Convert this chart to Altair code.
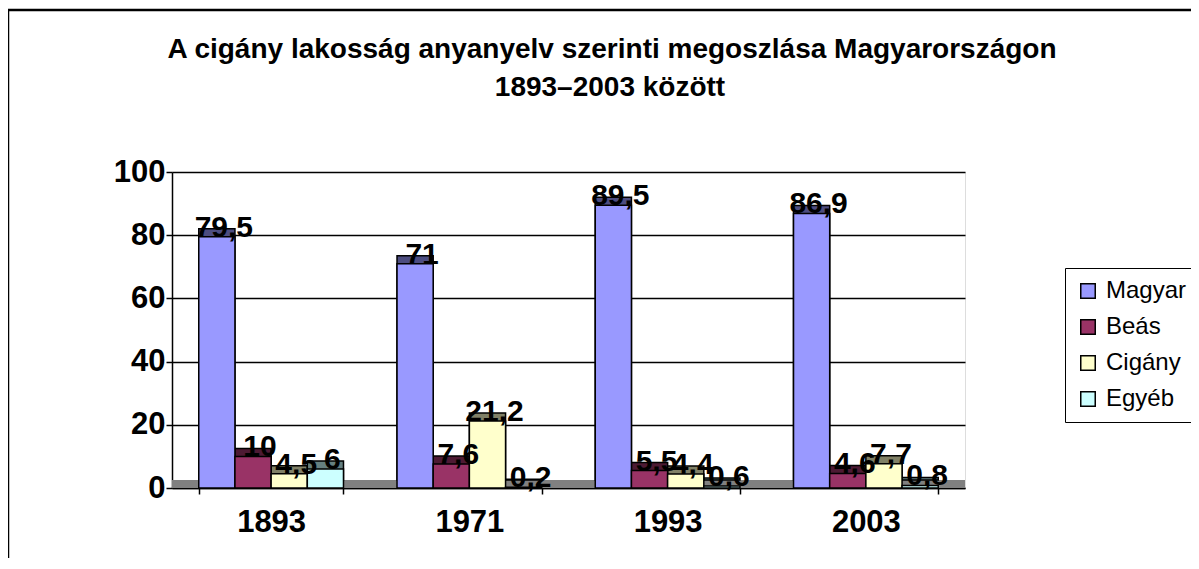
import altair as alt
import pandas as pd

years = ["1893", "1971", "1993", "2003"]
groups = ["Magyar", "Beás", "Cigány", "Egyéb"]
magyar = [79.5, 71, 89.5, 86.9]
beas = [10, 7.6, 5.5, 4.6]
cigany = [4.5, 21.2, 4.4, 7.7]
egyeb = [6, 0.2, 0.6, 0.8]
title_lines = ["A cigány lakosság anyanyelv szerinti megoszlása Magyarországon",
               "1893–2003 között"]

front_colors = ["#9999FF", "#993366", "#FFFFCC", "#CCFFFF"]
side_colors = ["#4D4D80", "#4D1A33", "#808066", "#668080"]

rows = []
for series, side_c, vals in zip(groups, side_colors, [magyar, beas, cigany, egyeb]):
    for y, v in zip(years, vals):
        rows.append({"Év": y, "Nyelv": series, "Érték": v, "Oldal": side_c,
                     "Címke": ("%g" % v).replace(".", ",")})
df = pd.DataFrame(rows)
one = pd.DataFrame({"k": [0]})

W, H = 793, 316
FONT = "Liberation Sans"

x_enc = alt.X("Év:N", sort=years,
              scale=alt.Scale(paddingInner=0.27, paddingOuter=0.135),
              axis=alt.Axis(title=None, labelAngle=0, labelFont=FONT, labelFontSize=31,
                            labelFontWeight="bold", labelColor="black", labelPadding=13,
                            domainColor="black", domainWidth=1.5, tickColor="black",
                            tickWidth=1.5, tickSize=6, tickBand="extent", grid=False))
y_enc = alt.Y("Érték:Q", scale=alt.Scale(domain=[0, 100]),
              axis=alt.Axis(title=None, values=[0, 20, 40, 60, 80, 100], labelFont=FONT,
                            labelFontSize=31, labelFontWeight="bold", labelColor="black",
                            labelPadding=1, domainColor="black", domainWidth=1.5,
                            tickColor="black", tickWidth=1.5, tickSize=6,
                            gridColor="black", gridWidth=1.5))
xoff = alt.XOffset("Nyelv:N", sort=groups, scale=alt.Scale(paddingInner=0, paddingOuter=0))

base = alt.Chart(df)
deco = alt.Chart(one)

floor = deco.mark_rect(color="#808080").encode(
    x=alt.value(0), x2=alt.value(W), y=alt.value(H - 8), y2=alt.value(H))

side = base.mark_bar(xOffset=10, x2Offset=10, yOffset=-8, y2Offset=-8,
                     stroke="black", strokeWidth=1.5).encode(
    x=x_enc, xOffset=xoff, y=y_enc,
    color=alt.Color("Oldal:N", scale=None))

front = base.mark_bar(stroke="black", strokeWidth=1.5).encode(
    x=x_enc, xOffset=xoff, y=y_enc,
    fill=alt.Fill("Nyelv:N", sort=groups,
                  scale=alt.Scale(domain=groups, range=front_colors),
                  legend=alt.Legend(title=None, orient="none", legendX=893, legendY=96,
                                    fillColor="white", strokeColor="black",
                                    padding=11, labelFont=FONT, labelFontSize=24,
                                    labelColor="black", symbolType="square",
                                    symbolSize=210, symbolStrokeColor="black",
                                    symbolStrokeWidth=1.5, rowPadding=12,
                                    labelOffset=6)))

labels = base.mark_text(font=FONT, fontSize=30, fontWeight="bold", color="black",
                        baseline="middle", dx=7, dy=-9).encode(
    x=x_enc, xOffset=xoff, y=y_enc, text="Címke:N")

title1 = deco.mark_text(font=FONT, fontSize=28, fontWeight="bold", color="black",
                        align="center", baseline="alphabetic").encode(
    x=alt.value(440), y=alt.value(-114), text=alt.value(title_lines[0]))
title2 = deco.mark_text(font=FONT, fontSize=28, fontWeight="bold", color="black",
                        align="center", baseline="alphabetic").encode(
    x=alt.value(438), y=alt.value(-76), text=alt.value(title_lines[1]))

frame_top = deco.mark_rule(color="black", strokeWidth=2.5).encode(
    x=alt.value(-164), x2=alt.value(1100), y=alt.value(-162))
frame_left = deco.mark_rule(color="black", strokeWidth=2.5).encode(
    x=alt.value(-164), y=alt.value(-162), y2=alt.value(500))

chart = alt.layer(floor, side, front, labels, title1, title2, frame_top, frame_left).properties(
    width=W, height=H,
    autosize=alt.AutoSizeParams(type="none"),
    padding={"left": 164, "top": 164, "right": 226, "bottom": 70},
).configure_view(fill="#C0C0C0", stroke=None).configure(background="white")

chart.save("out.html", embed_options={"renderer": "svg", "actions": False})
